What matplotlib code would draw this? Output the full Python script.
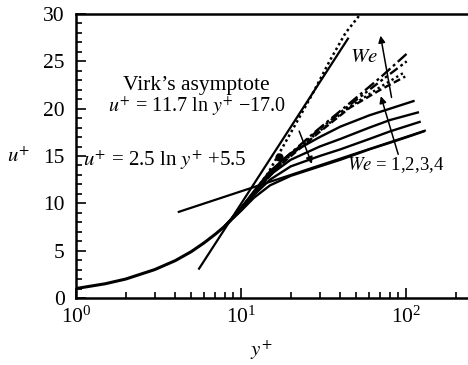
import matplotlib
matplotlib.use("Agg")
import matplotlib.pyplot as plt
from matplotlib.ticker import MultipleLocator, LogLocator, NullFormatter

plt.rcParams['font.family'] = ['Liberation Serif', 'DejaVu Serif']
plt.rcParams['mathtext.fontset'] = 'stix'

# ---- data ----
base_y = [1.0, 1.5, 2.0, 3.0, 4.0, 5.0, 6.0, 7.0, 8.0]
base_u = [1.0, 1.5, 2.0, 3.0, 3.95, 4.9, 5.85, 6.75, 7.6]

loglaw_y = [4.2, 130.0]
loglaw_u = [9.1, 17.67]

virk_y = [5.57, 44.5]
virk_u = [3.1, 27.4]

solid_y = [
    [8, 10, 12, 15, 20, 30, 40, 60, 80, 110, 128],
    [8, 10, 12, 15, 20, 30, 40, 60, 80, 121],
    [8, 10, 12, 15, 20, 30, 40, 60, 80, 118],
    [8, 10, 12, 15, 20, 30, 40, 60, 80, 111],
]
solid_u = [
    [7.6, 9.2, 10.6, 11.9, 12.9, 13.9, 14.6, 15.7, 16.4, 17.2, 17.6],
    [7.6, 9.3, 10.9, 12.5, 13.9, 15.0, 15.7, 16.8, 17.6, 18.6],
    [7.6, 9.4, 11.1, 13.0, 14.6, 16.0, 16.8, 18.0, 18.8, 19.6],
    [7.6, 9.5, 11.3, 13.4, 15.3, 17.0, 18.1, 19.3, 20.0, 20.8],
]

dash_y = [
    [8, 10, 13, 18, 28.8, 45.7, 70, 101],
    [8, 10, 13, 18, 28.8, 45.7, 70, 101],
    [8, 10, 13, 18, 28.8, 45.7, 70, 99],
    [8, 10, 13, 18, 28.8, 45.7, 70, 99],
]
dash_u = [
    [7.6, 9.5, 11.9, 14.6, 17.7, 20.6, 23.3, 25.8],
    [7.6, 9.5, 11.8, 14.5, 17.6, 20.4, 22.9, 25.0],
    [7.6, 9.5, 11.8, 14.4, 17.4, 20.2, 22.3, 23.9],
    [7.6, 9.5, 11.8, 14.3, 17.3, 20.1, 22.0, 23.4],
]

dns_y = [8, 10, 14.6, 20.4, 27, 34.6, 43, 53]
dns_u = [7.6, 9.3, 13.2, 17.7, 21.5, 25.1, 28.0, 30.0]

dot_y = [17.0]
dot_u = [14.9]

# ---- figure ----
fig = plt.figure(figsize=(4.68, 3.65), dpi=100)
ax = fig.add_axes([0.1624, 0.1836, 0.8376, 0.778])
ax.set_xscale('log')
ax.set_xlim(1, 237.6)
ax.set_ylim(0, 30)

lw = 1.7
ax.plot(base_y, base_u, color='black', lw=2.2, solid_capstyle='butt')
ax.plot(loglaw_y, loglaw_u, color='black', lw=1.6)
ax.plot(virk_y, virk_u, color='black', lw=1.6)
for ys, us in zip(solid_y, solid_u):
    ax.plot(ys, us, color='black', lw=lw)
styles = [(0, (5, 1.5, 1.2, 1.5)), (0, (4, 1.5, 1.2, 1.2, 1.2, 1.5)),
          (0, (1, 1.3)), (0, (3, 1.5))]
for ys, us, st in zip(dash_y, dash_u, styles):
    ax.plot(ys, us, color='black', lw=lw, linestyle=st)
ax.plot(dns_y, dns_u, color='black', lw=1.8, linestyle=(0, (1, 1.2)))
ax.plot(dot_y, dot_u, 'o', color='black', ms=5)

# arrows
ap = dict(arrowstyle='-|>', color='black', lw=1.1, mutation_scale=10)
ax.annotate('', xy=(27.3, 13.9), xytext=(22.2, 17.9), arrowprops=ap)
ax.annotate('', xy=(69.6, 28.0), xytext=(82.3, 20.9), arrowprops=ap)
ax.annotate('', xy=(69.6, 21.6), xytext=(90.7, 14.9), arrowprops=ap)

ax.text(5.34, 22.4, 'Virk\u2019s asymptote', fontsize=15.5, ha='center', va='center')
ax.text(5.4, 20.3, '$u^{+}$ = 11.7 ln $y^{+}$ \u221217.0',
        fontsize=14.5, ha='center', va='center')
ax.text(1.1, 14.6, '$u^{+}$ = 2.5 ln $y^{+}$ +5.5', fontsize=15, ha='left', va='center')
ax.text(56, 25.4, '$We$', fontsize=15, ha='center', va='center')
ax.text(86, 14.0, '$We$ = 1,2,3,4', fontsize=13.5, ha='center', va='center')

# axes styling
ax.spines['right'].set_visible(False)
for s in ['left', 'bottom', 'top']:
    ax.spines[s].set_linewidth(1.8)
ax.yaxis.set_major_locator(MultipleLocator(5))
ax.yaxis.set_minor_locator(MultipleLocator(1))
ax.xaxis.set_major_locator(LogLocator(base=10, numticks=10))
ax.xaxis.set_minor_locator(LogLocator(base=10, subs=range(2, 10), numticks=10))
ax.xaxis.set_minor_formatter(NullFormatter())
ax.tick_params(which='both', direction='in', top=False, right=False, labelsize=15.5, width=1.2)
ax.tick_params(which='major', length=7)
ax.tick_params(axis='y', which='major', pad=8)
ax.tick_params(axis='x', which='major', pad=6)
ax.tick_params(which='minor', length=4)

fig.text(19 / 468, 1 - 157 / 365, '$u^{+}$', fontsize=15, ha='center', va='center')
fig.text(261 / 468, 1 - 350 / 365, '$y^{+}$', fontsize=15, ha='center', va='center')

fig.savefig('out.png', dpi=100)
